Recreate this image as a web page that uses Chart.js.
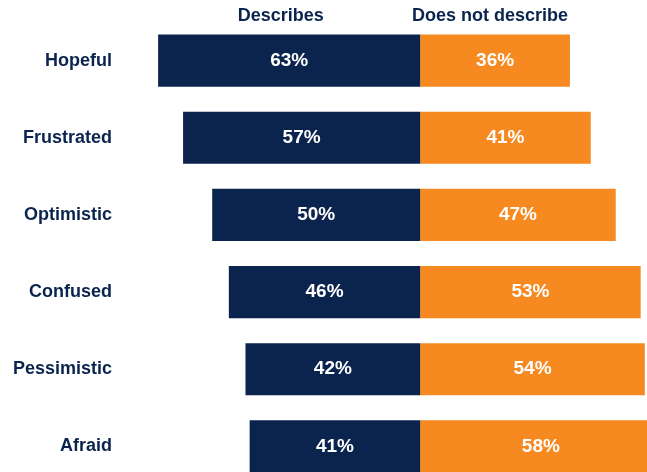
<!DOCTYPE html>
<html>
<head>
<meta charset="utf-8">
<script src="https://cdn.jsdelivr.net/npm/chart.js@4"></script>
<style>
  html, body { margin: 0; padding: 0; background: #fff; overflow: hidden; }
  #wrap { width: 647px; height: 485px; }
</style>
</head>
<body>
<div id="wrap"><canvas id="chart" width="647" height="485"></canvas></div>
<script>
// ---- data ----
const categories = ['Hopeful', 'Frustrated', 'Optimistic', 'Confused', 'Pessimistic', 'Afraid'];
const describes = [63, 57, 50, 46, 42, 41];
const doesNotDescribe = [36, 41, 47, 53, 54, 58];
const seriesNames = ['Describes', 'Does not describe'];

const NAVY = '#0a244d';
const ORANGE = '#f6891f';
const FONT = 'Liberation Sans, Arial, sans-serif';

// white value labels centred in each bar, plus column headers
const labelPlugin = {
    id: 'labels',
    afterDatasetsDraw(chart) {
        const ctx = chart.ctx;
        ctx.save();
        ctx.font = 'bold 19px ' + FONT;
        ctx.fillStyle = '#ffffff';
        ctx.textAlign = 'center';
        ctx.textBaseline = 'middle';
        chart.data.datasets.forEach((ds, i) => {
            chart.getDatasetMeta(i).data.forEach((bar, j) => {
                const cx = (bar.x + bar.base) / 2;
                ctx.fillText(Math.abs(ds.data[j]) + '%', cx, bar.y);
            });
        });

        // headers above the columns
        const xs = chart.scales.x;
        ctx.font = 'bold 18px ' + FONT;
        ctx.fillStyle = NAVY;
        ctx.fillText(seriesNames[0], xs.getPixelForValue(-33.5), 16);
        ctx.fillText(seriesNames[1], xs.getPixelForValue(16.8), 16);
        ctx.restore();
    }
};

const ctx = document.getElementById('chart').getContext('2d');
new Chart(ctx, {
    type: 'bar',
    data: {
        labels: categories,
        datasets: [
            {
                label: seriesNames[0],
                data: describes.map(v => -v),
                backgroundColor: NAVY,
                barPercentage: 0.675,
                categoryPercentage: 1
            },
            {
                label: seriesNames[1],
                data: doesNotDescribe,
                backgroundColor: ORANGE,
                barPercentage: 0.675,
                categoryPercentage: 1
            }
        ]
    },
    options: {
        indexAxis: 'y',
        responsive: false,
        animation: false,
        layout: { padding: { top: 22, bottom: 0, left: 0, right: 0 } },
        plugins: {
            legend: { display: false },
            tooltip: { enabled: false }
        },
        scales: {
            x: {
                stacked: true,
                display: false,
                min: -70.24,
                max: 54.52
            },
            y: {
                stacked: true,
                grid: { display: false, drawTicks: false },
                border: { display: false },
                ticks: {
                    color: NAVY,
                    padding: 16,
                    font: { family: FONT, size: 18, weight: 'bold' }
                },
                afterFit: function(scale) {
                    scale.width = 128;
                    // labels sit mid-band, no extra room needed above/below
                    scale.paddingTop = 0;
                    scale.paddingBottom = 0;
                }
            }
        }
    },
    plugins: [labelPlugin]
});
</script>
</body>
</html>
